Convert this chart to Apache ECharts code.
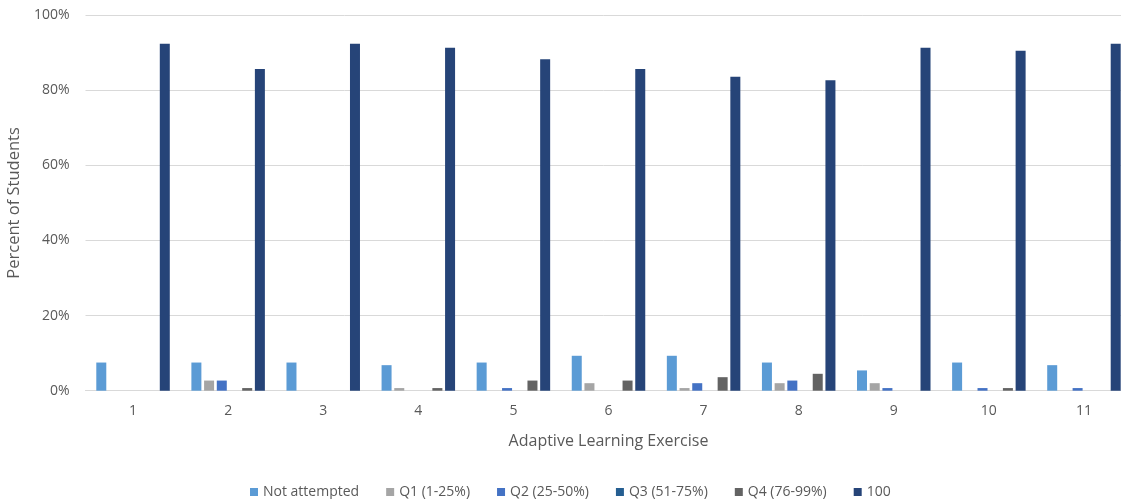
<!DOCTYPE html>
<html>
<head>
<meta charset="utf-8">
<script src="https://cdn.jsdelivr.net/npm/echarts@6/dist/echarts.min.js"></script>
<style>
  html, body { margin: 0; padding: 0; background: #fff; }
  #chart { width: 1121px; height: 499px; }
</style>
</head>
<body>
<div id="chart"></div>
<script>
// Exercises 1–11 and the share of students in each score band (percent)
const exercises = ['1', '2', '3', '4', '5', '6', '7', '8', '9', '10', '11'];
const seriesNames = ['Not attempted', 'Q1 (1-25%)', 'Q2 (25-50%)', 'Q3 (51-75%)', 'Q4 (76-99%)', '100'];
const notAttempted = [7.5, 7.5, 7.5, 6.8, 7.5, 9.3, 9.3, 7.5, 5.4, 7.5, 6.8];
const q1 = [0, 2.7, 0, 0.7, 0, 2.0, 0.7, 2.0, 2.0, 0, 0];
const q2 = [0, 2.7, 0, 0, 0.7, 0, 2.0, 2.7, 0.7, 0.7, 0.7];
const q3 = [0, 0, 0, 0, 0, 0, 0, 0, 0, 0, 0];
const q4 = [0, 0.7, 0, 0.7, 2.7, 2.7, 3.6, 4.5, 0, 0.7, 0];
const full = [92.4, 85.7, 92.4, 91.3, 88.3, 85.7, 83.6, 82.7, 91.3, 90.5, 92.4];
const yTicks = [0, 20, 40, 60, 80, 100];

const values = [notAttempted, q1, q2, q3, q4, full];
const colors = ['#5B9BD5', '#A5A5A5', '#4472C4', '#255E91', '#636363', '#264478'];
const textColor = '#595959';
const fontFamily = '"Open Sans", Lato, sans-serif';

const chart = echarts.init(document.getElementById('chart'), null, { renderer: 'canvas' });

chart.setOption({
  animation: false,
  textStyle: { fontFamily: fontFamily },
  // plot area runs slightly past the right edge of the canvas
  grid: { left: 85.5, width: 1046, top: 15.2, bottom: 108.3, containLabel: false, outerBoundsMode: 'none' },
  legend: {
    data: seriesNames,
    top: 480,
    left: 245,
    icon: 'rect',
    itemWidth: 8,
    itemHeight: 8,
    itemGap: 27,
    textStyle: { color: textColor, fontSize: 14, fontFamily: fontFamily }
  },
  xAxis: {
    type: 'category',
    data: exercises,
    name: 'Adaptive Learning Exercise',
    nameLocation: 'middle',
    nameGap: 43,
    nameTextStyle: { color: textColor, fontSize: 16, fontFamily: fontFamily },
    axisLine: { lineStyle: { color: '#d9d9d9', width: 1 } },
    axisTick: { show: false },
    axisLabel: { color: textColor, fontSize: 14, margin: 13, fontFamily: fontFamily }
  },
  yAxis: {
    type: 'value',
    min: yTicks[0],
    max: yTicks[yTicks.length - 1],
    interval: 20,
    name: 'Percent of Students',
    nameLocation: 'middle',
    nameGap: 62,
    nameTextStyle: { color: textColor, fontSize: 16.5, fontFamily: fontFamily },
    axisLine: { show: false },
    axisTick: { show: false },
    axisLabel: { color: textColor, fontSize: 14, margin: 16, formatter: '{value}%', fontFamily: fontFamily },
    splitLine: { lineStyle: { color: '#d9d9d9', width: 1 } }
  },
  series: seriesNames.map((name, i) => ({
    name: name,
    type: 'bar',
    data: values[i],
    barWidth: 10,
    barGap: '27%',
    itemStyle: { color: colors[i] }
  }))
});
</script>
</body>
</html>
